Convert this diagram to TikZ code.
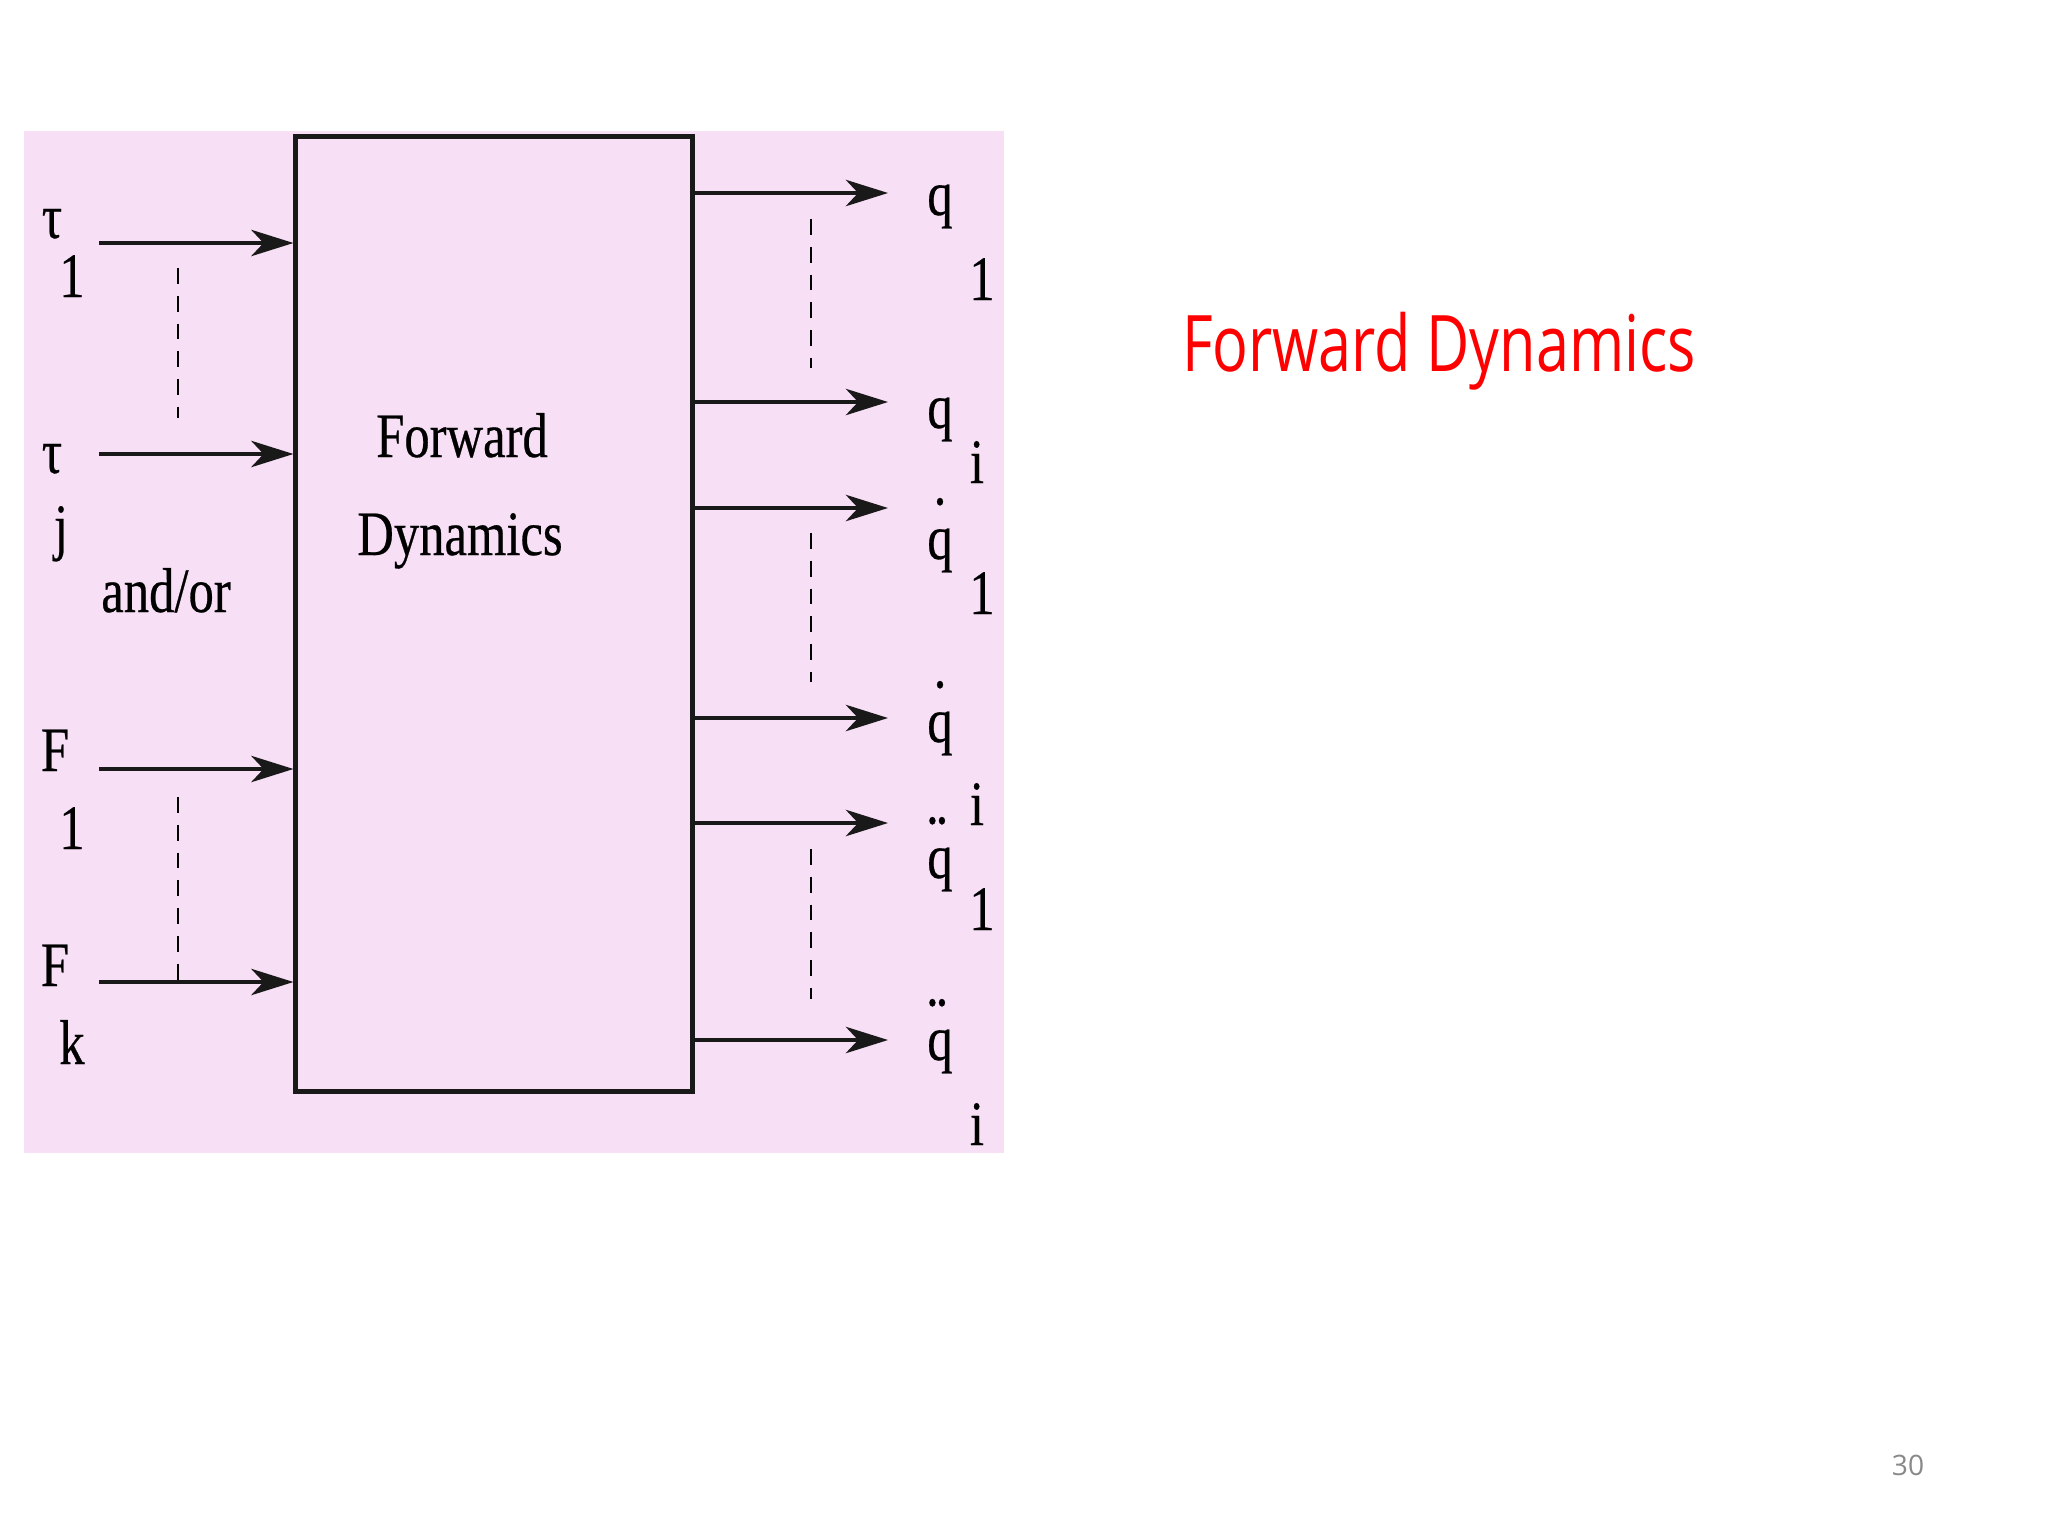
\documentclass[tikz,border=0pt]{standalone}
\usepackage{fontspec}
\setmainfont{Liberation Serif}
\usetikzlibrary{arrows.meta, positioning, calc}
\newfontfamily\figfont[FakeStretch=0.8, FakeBold=0.4]{Liberation Serif}
\newfontfamily\slidefont[FakeStretch=0.76]{Open Sans}
\newfontfamily\numfont{Open Sans}
\definecolor{scanpink}{RGB}{247,223,245}
\definecolor{slidered}{RGB}{255,0,0}
\definecolor{pagegray}{RGB}{137,137,137}
\newcommand{\qdot}{\rlap{\hspace{0.1em}\raisebox{0.86em}{.}}q}
\newcommand{\qddot}{\rlap{\hspace{-0.02em}\raisebox{0.86em}{.\kern-0.05em.}}q}
\tikzset{
  lbl/.style={anchor=base, inner sep=0pt, font=\figfont\fontsize{18}{18}\selectfont},
  inarrow/.style={-{Stealth[length=12pt, width=7.5pt, inset=3.5pt]}, line width=1pt, draw=black!90},
  gapline/.style={line width=0.6pt, dash pattern=on 4.5pt off 3.4pt},
}

\begin{document}
\begin{tikzpicture}[x=0.01cm, y=-0.01cm]
  \useasboundingbox (0,0) rectangle (2048,1536);
  \fill[white] (0,0) rectangle (2048,1536);
  % scanned figure
  \fill[scanpink] (24,131) rectangle (1004,1153);

  \node[draw=black!90, line width=1.4pt, fill=scanpink, minimum width=3.96cm, minimum height=9.54cm, inner sep=0pt] (fd) at (494,614) {};
  \node[lbl] (fwd) at (462,457) {Forward};
  \node[lbl] (dyn) at (460,555) {Dynamics};

  % inputs
  \coordinate (tau1) at (99,243);
  \coordinate (tauj) at (99,454);
  \coordinate (f1) at (99,769);
  \coordinate (fk) at (99,982);
  \coordinate (lcol) at (178,0);
  \coordinate (rcol) at (811,0);

  \node[lbl] (tau1l) at (52,238) {τ};
  \node[lbl] (tau1s) at (72,297) {1};
  \node[lbl] (taujl) at (52,473) {τ};
  \node[lbl] (taujs) at (61,548) {j};
  \node[lbl] (andor) at (166,612) {and/or};
  \node[lbl] (f1l) at (55,771) {F};
  \node[lbl] (f1s) at (72,849) {1};
  \node[lbl] (fkl) at (55,986) {F};
  \node[lbl] (fks) at (72,1064) {k};

  \draw[inarrow] (tau1) -- (tau1 -| fd.west);
  \draw[inarrow] (tauj) -- (tauj -| fd.west);
  \draw[inarrow] (f1) -- (f1 -| fd.west);
  \draw[inarrow] (fk) -- (fk -| fd.west);
  \draw[gapline, shorten <=0.25cm, shorten >=0.36cm] (tau1 -| lcol) -- (tauj -| lcol);
  \draw[gapline, shorten <=0.28cm, shorten >=0.02cm] (f1 -| lcol) -- (fk -| lcol);

  % outputs
  \coordinate (q1e) at (888,193);
  \coordinate (qie) at (888,402);
  \coordinate (dq1e) at (888,508);
  \coordinate (dqie) at (888,718);
  \coordinate (ddq1e) at (888,823);
  \coordinate (ddqie) at (888,1040);

  \node[lbl] (q1l) at (940,215) {q};
  \node[lbl] (q1s) at (982,300) {1};
  \node[lbl] (qil) at (940,428) {q};
  \node[lbl] (qis) at (977,483) {i};
  \node[lbl] (dq1l) at (940,559) {\qdot};
  \node[lbl] (dq1s) at (982,614) {1};
  \node[lbl] (dqil) at (940,742) {\qdot};
  \node[lbl] (dqis) at (977,825) {i};
  \node[lbl] (ddq1l) at (940,878) {\qddot};
  \node[lbl] (ddq1s) at (982,930) {1};
  \node[lbl] (ddqil) at (940,1060) {\qddot};
  \node[lbl] (ddqis) at (977,1145) {i};

  \draw[inarrow] (q1e -| fd.east) -- (q1e);
  \draw[inarrow] (qie -| fd.east) -- (qie);
  \draw[inarrow] (dq1e -| fd.east) -- (dq1e);
  \draw[inarrow] (dqie -| fd.east) -- (dqie);
  \draw[inarrow] (ddq1e -| fd.east) -- (ddq1e);
  \draw[inarrow] (ddqie -| fd.east) -- (ddqie);
  \draw[gapline, shorten <=0.26cm, shorten >=0.34cm] (q1e -| rcol) -- (qie -| rcol);
  \draw[gapline, shorten <=0.25cm, shorten >=0.36cm] (dq1e -| rcol) -- (dqie -| rcol);
  \draw[gapline, shorten <=0.26cm, shorten >=0.41cm] (ddq1e -| rcol) -- (ddqie -| rcol);

  % slide text
  \node[anchor=base, text=slidered, font=\slidefont\fontsize{22.2}{24}\selectfont] (title) at (1439,371) {Forward Dynamics};
  \node[anchor=base, text=pagegray, font=\numfont\fontsize{8}{9}\selectfont] (pnum) at (1908,1475) {30};
\end{tikzpicture}
\end{document}
